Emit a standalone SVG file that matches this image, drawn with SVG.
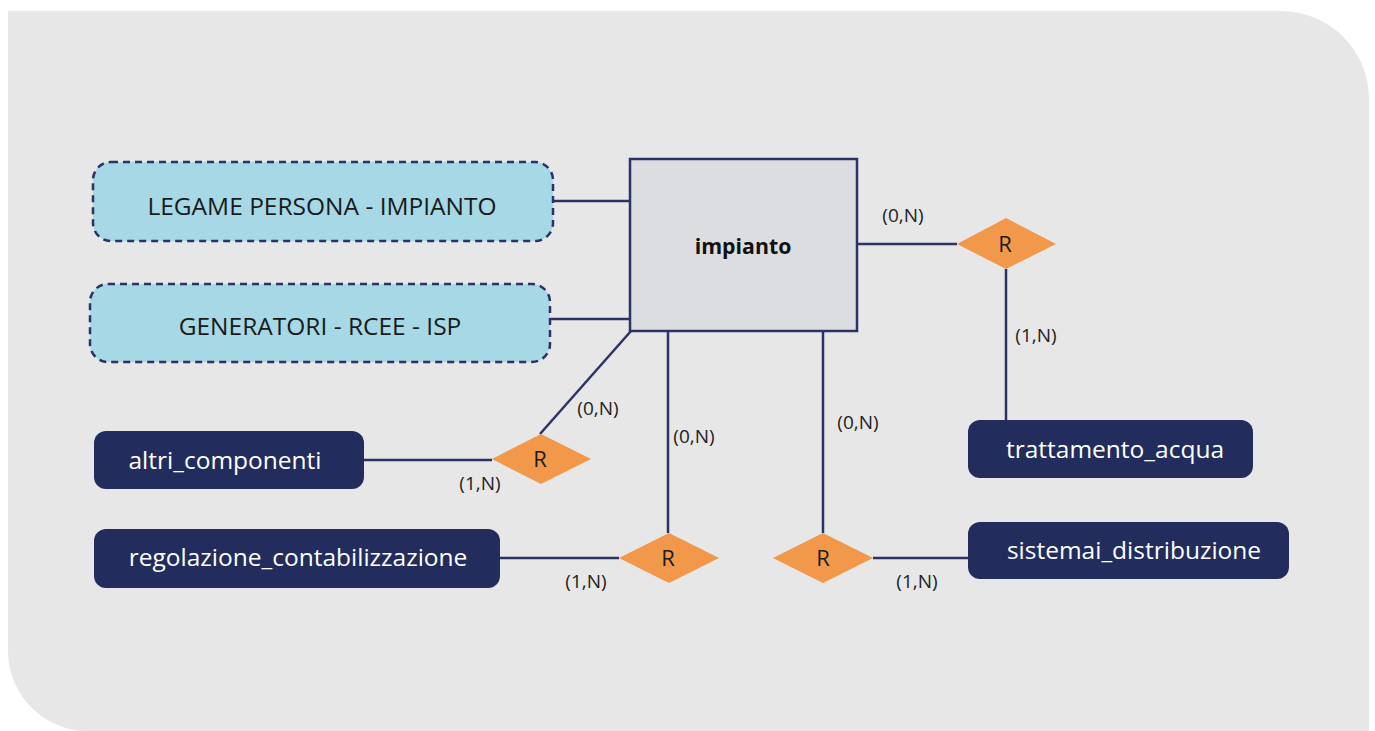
<svg xmlns="http://www.w3.org/2000/svg" width="1375" height="731" viewBox="0 0 1375 731">
  <style>
    .panel { fill: #e7e7e7; }
    .line { stroke: #2b3265; stroke-width: 2.5; fill: none; }
    .weak { fill: #a6d8e6; stroke: #2b3265; stroke-width: 2.5; stroke-dasharray: 7 5; }
    .ent { fill: #222d5d; }
    .main { fill: #dcdde0; stroke: #2b3265; stroke-width: 2.5; }
    .rel { fill: #f1984a; }
    .t { font-family: "Open Sans", "Noto Sans", sans-serif; }
    .tw { fill: #ffffff; font-size: 24.5px; }
    .tb { fill: #1a1a1a; font-size: 24.5px; }
    .tr { fill: #1a1a1a; font-size: 22px; }
    .lab { fill: #222222; font-size: 19px; }
  </style>
  <rect width="1375" height="731" fill="#ffffff"/>
  <path class="panel" d="M8 11 H1281 A88 88 0 0 1 1369 99 V731 H88 A80 80 0 0 1 8 651 Z"/>

  <g id="connectors">
    <line class="line" x1="553" y1="201" x2="630" y2="201"/>
    <line class="line" x1="550" y1="319" x2="630" y2="319"/>
    <line class="line" x1="857" y1="244" x2="957" y2="244"/>
    <line class="line" x1="1006" y1="269" x2="1006" y2="421"/>
    <line class="line" x1="631" y1="331" x2="540" y2="434"/>
    <line class="line" x1="364" y1="460" x2="492" y2="460"/>
    <line class="line" x1="668" y1="331" x2="668" y2="533"/>
    <line class="line" x1="500" y1="558" x2="619" y2="558"/>
    <line class="line" x1="823" y1="331" x2="823" y2="533"/>
    <line class="line" x1="873" y1="558" x2="968" y2="558"/>
    <g class="t lab">
      <text x="903" y="222" text-anchor="middle">(0,N)</text>
      <text x="1036" y="342" text-anchor="middle">(1,N)</text>
      <text x="598" y="415" text-anchor="middle">(0,N)</text>
      <text x="480" y="490" text-anchor="middle">(1,N)</text>
      <text x="694" y="443" text-anchor="middle">(0,N)</text>
      <text x="586" y="588" text-anchor="middle">(1,N)</text>
      <text x="858" y="429" text-anchor="middle">(0,N)</text>
      <text x="917" y="588" text-anchor="middle">(1,N)</text>
    </g>
  </g>

  <g id="legame">
    <rect class="weak" x="93" y="162" width="460" height="79" rx="18"/>
    <text class="t tb" x="322" y="215" text-anchor="middle">LEGAME PERSONA - IMPIANTO</text>
  </g>
  <g id="generatori">
    <rect class="weak" x="90" y="284" width="460" height="78" rx="18"/>
    <text class="t tb" x="320" y="335" text-anchor="middle">GENERATORI - RCEE - ISP</text>
  </g>
  <g id="impianto">
    <rect class="main" x="630" y="159" width="227" height="172"/>
    <text class="t" x="743" y="254" text-anchor="middle" font-size="21.3" font-weight="bold" fill="#111111">impianto</text>
  </g>
  <g id="r1">
    <polygon class="rel" points="957,244 1006,218 1056,244 1006,269"/>
    <text class="t tr" x="1005" y="252" text-anchor="middle">R</text>
  </g>
  <g id="trattamento_acqua">
    <rect class="ent" x="968" y="420" width="285" height="58" rx="12"/>
    <text class="t tw" x="1115" y="458" text-anchor="middle">trattamento_acqua</text>
  </g>
  <g id="altri_componenti">
    <rect class="ent" x="94" y="431" width="270" height="58" rx="12"/>
    <text class="t tw" x="225" y="469" text-anchor="middle">altri_componenti</text>
  </g>
  <g id="r2">
    <polygon class="rel" points="492,459 541,434 591,459 541,484"/>
    <text class="t tr" x="540" y="467" text-anchor="middle">R</text>
  </g>
  <g id="regolazione_contabilizzazione">
    <rect class="ent" x="94" y="529" width="406" height="59" rx="12"/>
    <text class="t tw" x="298" y="566" text-anchor="middle">regolazione_contabilizzazione</text>
  </g>
  <g id="r3">
    <polygon class="rel" points="619,558 669,533 719,558 669,583"/>
    <text class="t tr" x="668" y="566" text-anchor="middle">R</text>
  </g>
  <g id="r4">
    <polygon class="rel" points="773,558 823,533 873,558 823,583"/>
    <text class="t tr" x="823" y="566" text-anchor="middle">R</text>
  </g>
  <g id="sistemai_distribuzione">
    <rect class="ent" x="968" y="522" width="321" height="57" rx="12"/>
    <text class="t tw" x="1134" y="559" text-anchor="middle">sistemai_distribuzione</text>
  </g>
</svg>
